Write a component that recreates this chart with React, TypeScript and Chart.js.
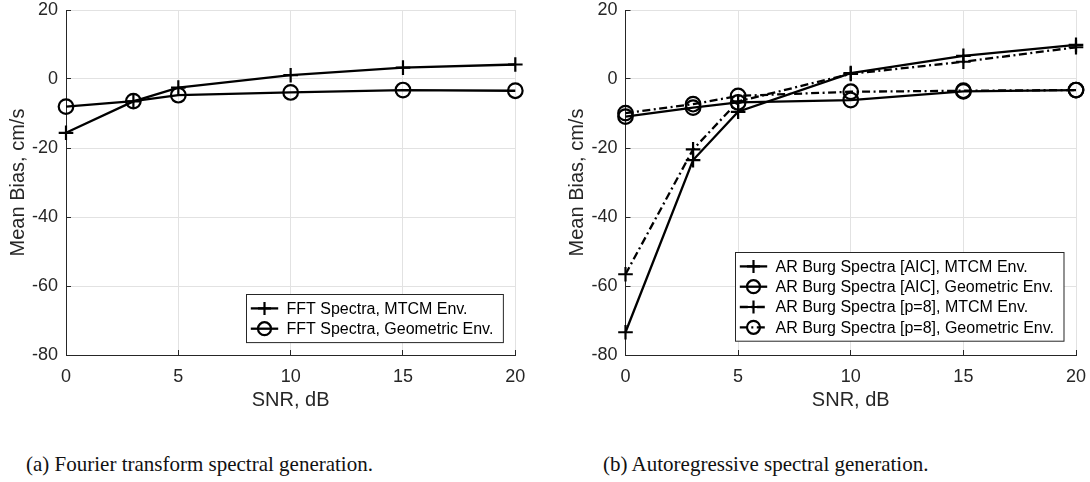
import React, { useEffect, useRef } from "react";
import { Chart, registerables } from "chart.js";
Chart.register(...registerables);

// ---------- data ----------
const snrDb = [0, 3, 5, 10, 15, 20];

const fftMtcm = [-15.6, -6.5, -2.5, 1.1, 3.3, 4.2];
const fftGeom = [-8.0, -6.4, -4.7, -3.9, -3.2, -3.4];

const arAicMtcm = [-73.4, -23.5, -9.5, 1.7, 6.7, 9.9];
const arAicGeom = [-10.9, -8.3, -6.8, -6.1, -3.6, -3.2];
const arP8Mtcm = [-56.6, -20.4, -6.5, 1.5, 5.0, 9.2];
const arP8Geom = [-9.9, -7.3, -4.9, -3.7, -3.4, -3.2];

const labelsA = ["FFT Spectra, MTCM Env.", "FFT Spectra, Geometric Env."];
const labelsB = [
  "AR Burg Spectra [AIC], MTCM Env.",
  "AR Burg Spectra [AIC], Geometric Env.",
  "AR Burg Spectra [p=8], MTCM Env.",
  "AR Burg Spectra [p=8], Geometric Env.",
];

const xTitle = "SNR, dB";
const yTitle = "Mean Bias, cm/s";
const captionA = "(a) Fourier transform spectral generation.";
const captionB = "(b) Autoregressive spectral generation.";

// ---------- styles ----------
const FONT = "'Liberation Sans', Arial, Helvetica, sans-serif";
const INK = "#262626";
const GRID = "#e2e2e2";
const DASHDOT = [8, 3.5, 2, 3.5];

const boxLegend = {
  id: "boxLegend",
  afterDatasetsDraw(chart: any, _args: any, opts: any) {
    const ctx = chart.ctx as CanvasRenderingContext2D;
    const ca = chart.chartArea;
    const ds = chart.data.datasets as any[];
    ctx.save();
    ctx.font = `${opts.fontSize}px ${FONT}`;
    const maxW = Math.max(...ds.map((d) => ctx.measureText(d.label).width));
    const w = opts.padLeft + opts.sampleLen + opts.textGap + maxW + opts.padRight;
    const h = ds.length * opts.rowH + opts.extraH;
    const x0 = Math.round(ca.right - opts.rightGap - w) + 0.5;
    const y0 = Math.round(ca.bottom - opts.bottomGap - h) + 0.5;
    ctx.fillStyle = "#ffffff";
    ctx.fillRect(x0, y0, w, h);
    ctx.strokeStyle = INK;
    ctx.lineWidth = 1;
    ctx.setLineDash([]);
    ctx.strokeRect(x0, y0, w, h);
    ds.forEach((d, i) => {
      const cy = y0 + opts.extraH / 2 + opts.rowH * (i + 0.5);
      const sx = x0 + opts.padLeft;
      ctx.strokeStyle = "#000";
      ctx.lineWidth = d.borderWidth;
      ctx.setLineDash(d.borderDash || []);
      ctx.beginPath();
      ctx.moveTo(sx, cy);
      ctx.lineTo(sx + opts.sampleLen, cy);
      ctx.stroke();
      ctx.setLineDash([]);
      const mx = sx + opts.sampleLen / 2;
      const r = opts.markerR;
      ctx.lineWidth = d.pointBorderWidth;
      ctx.beginPath();
      if (d.pointStyle === "circle") {
        ctx.arc(mx, cy, r, 0, Math.PI * 2);
      } else {
        ctx.moveTo(mx - r, cy);
        ctx.lineTo(mx + r, cy);
        ctx.moveTo(mx, cy - r);
        ctx.lineTo(mx, cy + r);
      }
      ctx.stroke();
      ctx.fillStyle = "#000";
      ctx.textBaseline = "middle";
      ctx.textAlign = "left";
      ctx.fillText(d.label, sx + opts.sampleLen + opts.textGap, cy + 1);
    });
    ctx.restore();
  },
};

function series(label: string, values: number[], marker: "cross" | "circle", dashed: boolean) {
  return {
    label,
    data: snrDb.map((x, i) => ({ x, y: values[i] })),
    borderColor: "#000",
    borderWidth: 2.3,
    borderDash: dashed ? DASHDOT : [],
    pointStyle: marker,
    pointRadius: 7.3,
    pointHoverRadius: 7.3,
    pointBorderWidth: 2.2,
    pointBorderColor: "#000",
    pointBackgroundColor: "rgba(0,0,0,0)",
    fill: false,
    tension: 0,
    clip: false,
  };
}

function makeConfig(datasets: any[], pad: any, yWidth: number, legendGap: any): any {
  return {
    type: "line",
    data: { datasets },
    plugins: [boxLegend],
    options: {
      animation: false,
      responsive: false,
      devicePixelRatio: 1,
      layout: { padding: pad },
      plugins: {
        legend: { display: false },
        tooltip: { enabled: false },
        boxLegend: {
          fontSize: 16,
          padLeft: 4.3,
          sampleLen: 27.4,
          textGap: 8.3,
          padRight: 10,
          rowH: 20.3,
          extraH: 7.5,
          markerR: 6.5,
          ...legendGap,
        },
      },
      scales: {
        x: {
          type: "linear",
          min: 0,
          max: 20,
          ticks: {
            stepSize: 5,
            color: INK,
            font: { family: FONT, size: 18, lineHeight: 1 },
            padding: 18,
            maxRotation: 0,
          },
          grid: { color: GRID, lineWidth: 1, tickColor: INK, tickLength: -5, drawTicks: true },
          border: { color: INK, width: 1 },
          title: {
            display: true,
            text: xTitle,
            color: INK,
            font: { family: FONT, size: 20, lineHeight: 1.2 },
            padding: 0,
          },
          afterFit: (s: any) => {
            s.height = 57;
            s.paddingLeft = 0;
            s.paddingRight = 0;
          },
        },
        y: {
          type: "linear",
          min: -80,
          max: 20,
          ticks: {
            stepSize: 20,
            color: INK,
            font: { family: FONT, size: 18, lineHeight: 1 },
            padding: 13,
          },
          grid: { color: GRID, lineWidth: 1, tickColor: INK, tickLength: -5, drawTicks: true },
          border: { color: INK, width: 1 },
          title: {
            display: true,
            text: yTitle,
            color: INK,
            font: { family: FONT, size: 20, lineHeight: 1.2 },
            padding: 0,
          },
          afterFit: (s: any) => {
            s.width = yWidth;
            s.paddingTop = 0;
            s.paddingBottom = 0;
          },
        },
      },
    },
  };
}

function ChartBox({ left, build }: { left: number; build: () => any }) {
  const ref = useRef<HTMLCanvasElement>(null);
  useEffect(() => {
    const chart = new Chart(ref.current as HTMLCanvasElement, build());
    return () => chart.destroy();
  }, []);
  return (
    <div style={{ position: "absolute", left, top: 0, width: 545, height: 420 }}>
      <canvas ref={ref} width={545} height={420} style={{ display: "block", width: 545, height: 420 }} />
    </div>
  );
}

const captionStyle: React.CSSProperties = {
  position: "absolute",
  top: 454,
  fontFamily: "'Liberation Serif', 'Times New Roman', serif",
  fontSize: 21,
  lineHeight: "21px",
  color: "#111",
  whiteSpace: "nowrap",
};

export default function App() {
  return (
    <div style={{ position: "absolute", left: 0, top: 0, width: 1090, height: 482, background: "#fff", overflow: "hidden" }}>
      <ChartBox
        left={0}
        build={() =>
          makeConfig(
            [series(labelsA[0], fftMtcm, "cross", false), series(labelsA[1], fftGeom, "circle", false)],
            { left: 6, right: 29.7, top: 10, bottom: 8 },
            60,
            { rightGap: 12.3, bottomGap: 12.7 }
          )
        }
      />
      <ChartBox
        left={545}
        build={() =>
          makeConfig(
            [
              series(labelsB[0], arAicMtcm, "cross", false),
              series(labelsB[1], arAicGeom, "circle", false),
              series(labelsB[2], arP8Mtcm, "cross", true),
              series(labelsB[3], arP8Geom, "circle", true),
            ],
            { left: 20, right: 14, top: 10, bottom: 8 },
            60.5,
            { rightGap: 12.7, bottomGap: 14.3 }
          )
        }
      />
      <div style={{ ...captionStyle, left: 26 }}>{captionA}</div>
      <div style={{ ...captionStyle, left: 603 }}>{captionB}</div>
    </div>
  );
}
